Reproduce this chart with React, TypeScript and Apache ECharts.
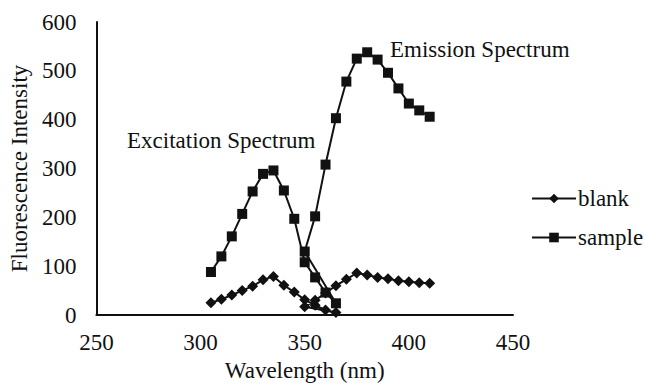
import React, { useEffect, useRef } from "react";
import * as echarts from "echarts";

const excitationX = [305, 310, 315, 320, 325, 330, 335, 340, 345, 350, 355, 360, 365];
const emissionX = [350, 355, 360, 365, 370, 375, 380, 385, 390, 395, 400, 405, 410];
const blankExcitation = [25, 32, 41, 50, 59, 72, 79, 61, 47, 31, 20, 10, 5];
const blankEmission = [17, 30, 45, 60, 73, 86, 82, 77, 74, 70, 68, 66, 65];
const sampleExcitation = [88, 120, 161, 207, 253, 289, 296, 255, 197, 108, 77, 46, 24];
const sampleEmission = [130, 202, 308, 403, 478, 525, 538, 523, 496, 464, 433, 419, 406];
const xTicks = { min: 250, max: 450, interval: 50 };
const yTicks = { min: 0, max: 600, interval: 100 };

const FONT = "Liberation Serif";
const INK = "#111";

function pairs(xs: number[], ys: number[]) {
  return xs.map((x, i) => [x, ys[i]]);
}

export default function App() {
  const ref = useRef<HTMLDivElement>(null);
  useEffect(() => {
    if (!ref.current) return;
    const chart = echarts.init(ref.current, undefined, { renderer: "svg" });
    const blankData = [...pairs(excitationX, blankExcitation), ...pairs(emissionX, blankEmission)];
    const sampleData = [...pairs(excitationX, sampleExcitation), ...pairs(emissionX, sampleEmission)];
    const txt = { fontFamily: FONT, fontSize: 23, color: INK };
    chart.setOption({
      animation: false,
      backgroundColor: "#fff",
      textStyle: { fontFamily: FONT, color: INK },
      grid: { left: 96, right: 132, top: 22, bottom: 73, containLabel: false },
      xAxis: {
        type: "value",
        min: xTicks.min,
        max: xTicks.max,
        interval: xTicks.interval,
        name: "Wavelength (nm)",
        nameLocation: "middle",
        nameGap: 32,
        nameTextStyle: txt,
        axisLine: { show: true, onZero: false, lineStyle: { color: INK, width: 2 } },
        axisTick: { show: false },
        splitLine: { show: false },
        axisLabel: { ...txt, margin: 16 },
      },
      yAxis: {
        type: "value",
        min: yTicks.min,
        max: yTicks.max,
        interval: yTicks.interval,
        name: "Fluorescence Intensity",
        nameLocation: "middle",
        nameGap: 58,
        nameTextStyle: txt,
        axisLine: { show: true, lineStyle: { color: INK, width: 2 } },
        axisTick: { show: false },
        splitLine: { show: false },
        axisLabel: { ...txt, margin: 20 },
      },
      legend: {
        orient: "vertical",
        left: 526,
        top: 182,
        itemWidth: 44,
        itemHeight: 12,
        itemGap: 16,
        textStyle: { ...txt, padding: [0, 0, 0, -3] },
        data: ["blank", "sample"],
      },
      series: [
        {
          name: "blank",
          type: "line",
          data: blankData,
          symbol: "diamond",
          symbolSize: 11,
          showSymbol: true,
          itemStyle: { color: INK },
          lineStyle: { color: INK, width: 2 },
        },
        {
          name: "sample",
          type: "line",
          data: sampleData,
          symbol: "rect",
          symbolSize: 10,
          showSymbol: true,
          itemStyle: { color: INK },
          lineStyle: { color: INK, width: 2 },
        },
      ],
      graphic: [
        {
          type: "text",
          left: 127,
          top: 129,
          style: { text: "Excitation Spectrum", fontFamily: FONT, fontSize: 23, fill: INK },
        },
        {
          type: "text",
          left: 390,
          top: 38,
          style: { text: "Emission Spectrum", fontFamily: FONT, fontSize: 23, fill: INK },
        },
      ],
    });
    return () => chart.dispose();
  }, []);
  return <div ref={ref} style={{ width: 645, height: 388, position: "fixed", left: 0, top: 0 }} />;
}
